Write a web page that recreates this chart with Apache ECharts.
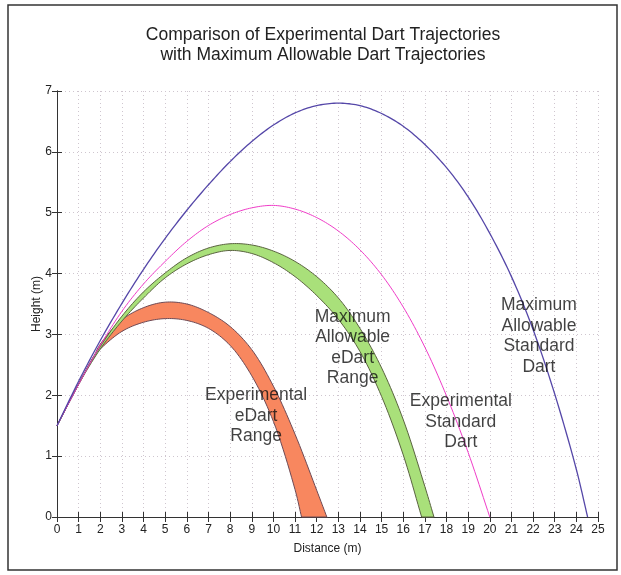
<!DOCTYPE html>
<html>
<head>
<meta charset="utf-8">
<script src="https://cdn.jsdelivr.net/npm/echarts@6/dist/echarts.min.js"></script>
<style>html,body{margin:0;padding:0;background:#fff;}#c{width:621px;height:575px;}</style>
</head>
<body>
<div id="c"></div>
<script>
// ---- data ----
const xTicks = [0,1,2,3,4,5,6,7,8,9,10,11,12,13,14,15,16,17,18,19,20,21,22,23,24,25];
const yTicks = [0,1,2,3,4,5,6,7];

// Maximum Allowable Standard Dart
const stdMaxX = [0,1,2,3,4,5,6,7,8,9,10,11,12,13,14,15,16,17,18,19,20,21,22,23,24,24.52];
const stdMaxY = [1.5,2.23,2.9,3.51,4.07,4.58,5.04,5.46,5.84,6.17,6.44,6.64,6.76,6.8,6.76,6.63,6.42,6.12,5.74,5.26,4.66,3.95,3.08,2.02,0.78,0];

// Experimental Standard Dart
const stdExpX = [0,1,2,3,4,5,6,7,8,9,10,11,12,13,14,15,16,17,18,19,20];
const stdExpY = [1.5,2.18,2.82,3.38,3.83,4.2,4.53,4.79,4.97,5.08,5.12,5.06,4.92,4.7,4.39,3.98,3.45,2.79,1.99,1.06,0];

// Maximum Allowable eDart Range (upper / lower edge)
const eMaxUpX = [0,1,2,3,4,5,6,7,8,9,10,11,12,13,14,15,16,17,17.42];
const eMaxUpY = [1.5,2.19,2.8,3.3,3.7,4.01,4.26,4.42,4.49,4.47,4.37,4.2,3.95,3.6,3.1,2.45,1.6,0.5,0];
const eMaxLoX = [0,1,2,3,4,5,6,7,8,9,10,11,12,13,14,15,16,16.85];
const eMaxLoY = [1.5,2.18,2.76,3.22,3.6,3.93,4.16,4.31,4.38,4.33,4.18,3.95,3.64,3.25,2.72,1.98,1.02,0];

// Experimental eDart Range (upper / lower edge)
const eExpUpX = [0,1,1.7,2,3,4,5,6,7,8,9,10,11,12,12.47];
const eExpUpY = [1.5,2.18,2.64,2.84,3.24,3.44,3.53,3.5,3.36,3.13,2.75,2.15,1.36,0.44,0];
const eExpLoX = [0,1,1.7,2,3,4,5,6,7,8,9,10,11,11.3];
const eExpLoY = [1.5,2.18,2.64,2.76,3.05,3.2,3.26,3.23,3.1,2.82,2.32,1.57,0.45,0];

// annotations
const annoText = ['Experimental\neDart\nRange','Maximum\nAllowable\neDart\nRange','Experimental\nStandard\nDart','Maximum\nAllowable\nStandard\nDart'];
const annoX = [9.2, 13.66, 18.66, 22.27];
const annoY = [1.66, 2.78, 1.56, 2.97];

const titleText = 'Comparison of Experimental Dart Trajectories\nwith Maximum Allowable Dart Trajectories';
const xName = 'Distance (m)';
const yName = 'Height (m)';

// ---- chart ----
const FONT = 'Liberation Sans, Arial, sans-serif';
const chart = echarts.init(document.getElementById('c'), null, {renderer:'canvas'});

// centripetal Catmull-Rom through pixel points (rendering only)
function spline(pts){
  const n = pts.length;
  if (n < 3) return pts.slice();
  const out = [];
  const d = (a,b)=>Math.max(1e-6, Math.pow(Math.hypot(b[0]-a[0], b[1]-a[1]), 0.5));
  const lerp = (a,b,ta,tb,t)=>{ const w=(t-ta)/(tb-ta); return [a[0]+(b[0]-a[0])*w, a[1]+(b[1]-a[1])*w]; };
  for (let i=0;i<n-1;i++){
    const p1 = pts[i], p2 = pts[i+1];
    const p0 = i>0 ? pts[i-1] : [2*p1[0]-p2[0], 2*p1[1]-p2[1]];
    const p3 = i<n-2 ? pts[i+2] : [2*p2[0]-p1[0], 2*p2[1]-p1[1]];
    const t0=0, t1=t0+d(p0,p1), t2=t1+d(p1,p2), t3=t2+d(p2,p3);
    const steps = 10;
    for (let s=0;s<steps;s++){
      const t = t1 + (t2-t1)*s/steps;
      const A1=lerp(p0,p1,t0,t1,t), A2=lerp(p1,p2,t1,t2,t), A3=lerp(p2,p3,t2,t3,t);
      const B1=lerp(A1,A2,t0,t2,t), B2=lerp(A2,A3,t1,t3,t);
      out.push(lerp(B1,B2,t1,t2,t));
    }
  }
  out.push(pts[n-1]);
  return out;
}

function bandSeries(upX, upY, loX, loY, fill, stroke){
  return {
    type:'custom', data:[[0,0]], z:2, silent:true,
    renderItem:function(params, api){
      const up = spline(upX.map((x,i)=>api.coord([x, upY[i]])));
      const lo = spline(loX.map((x,i)=>api.coord([x, loY[i]])));
      const pts = up.concat(lo.reverse());
      return {type:'polygon', shape:{points:pts}, style:{fill:fill, stroke:stroke, lineWidth:1}};
    }
  };
}
function curveSeries(xs, ys, color, width, z){
  return {
    type:'custom', data:[[0,0]], z:z, silent:true,
    renderItem:function(params, api){
      const pts = spline(xs.map((x,i)=>api.coord([x, ys[i]])));
      return {type:'polyline', shape:{points:pts}, style:{fill:null, stroke:color, lineWidth:width}};
    }
  };
}

const axisCommon = {
  type:'value',
  interval:1,
  axisLine:{show:true, lineStyle:{color:'#333', width:1}},
  axisTick:{show:true, inside:true, length:5, lineStyle:{color:'#333'}},
};

chart.setOption({
  animation:false,
  backgroundColor:'#fff',
  title:{
    text:titleText,
    left:318, top:20,
    textAlign:'center',
    textStyle:{fontFamily:FONT, fontSize:17.5, fontWeight:'normal', color:'#222', lineHeight:20}
  },
  grid:{left:57, right:23, top:91, bottom:58, containLabel:false},
  xAxis:[
    Object.assign({}, axisCommon, {
      min:0, max:25, position:'bottom',
      name:xName, nameLocation:'middle', nameGap:26,
      nameTextStyle:{fontFamily:FONT, fontSize:12, color:'#222'},
      axisLabel:{fontFamily:FONT, fontSize:12, color:'#222', margin:7,
        formatter:function(v){ return xTicks.indexOf(v)>=0 ? String(v) : ''; }},
      splitLine:{show:true, lineStyle:{color:'#cfc6cf', type:[1,3], width:1}}
    }),
    Object.assign({}, axisCommon, {
      min:0, max:25, position:'top',
      axisLabel:{show:false}, splitLine:{show:false}
    })
  ],
  yAxis:[
    Object.assign({}, axisCommon, {
      min:0, max:7, position:'left',
      name:yName, nameLocation:'middle', nameGap:14, nameRotate:90, nameMoveOverlap:false,
      nameTextStyle:{fontFamily:FONT, fontSize:12, color:'#222'},
      axisLabel:{fontFamily:FONT, fontSize:12, color:'#222', margin:5,
        formatter:function(v){ return yTicks.indexOf(v)>=0 ? String(v) : ''; }},
      splitLine:{show:true, lineStyle:{color:'#cfc6cf', type:[1,3], width:1}}
    }),
    Object.assign({}, axisCommon, {
      min:0, max:7, position:'right',
      axisLabel:{show:false}, splitLine:{show:false}
    })
  ],
  series:[
    bandSeries(eExpUpX, eExpUpY, eExpLoX, eExpLoY, '#f8875f', '#6e4a55'),
    bandSeries(eMaxUpX, eMaxUpY, eMaxLoX, eMaxLoY, '#a9e07a', '#5a6340'),
    curveSeries(stdExpX, stdExpY, '#f03cc8', 1, 3),
    curveSeries(stdMaxX, stdMaxY, '#5547a8', 1.3, 4),
    {
      type:'scatter', z:6, symbolSize:1, itemStyle:{color:'rgba(0,0,0,0)'},
      data:annoText.map((t,i)=>({value:[annoX[i], annoY[i]], name:t})),
      label:{show:true, position:'inside', formatter:function(p){return p.name;},
        fontFamily:FONT, fontSize:17.5, lineHeight:20.5, color:'#111', align:'center', verticalAlign:'middle'}
    }
  ],
  graphic:[
    {type:'rect', shape:{x:8, y:5, width:609, height:565}, style:{fill:'none', stroke:'#333', lineWidth:1.5}, z:-1}
  ]
});
</script>
</body>
</html>
